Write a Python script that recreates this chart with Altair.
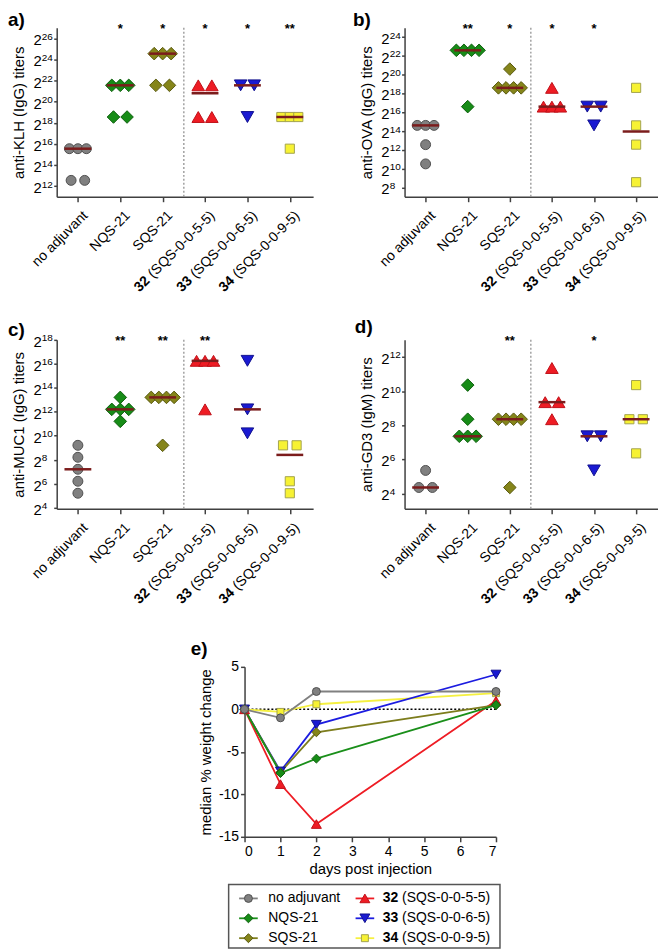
import altair as alt
import pandas as pd

FONT = "Liberation Sans"

# ---------------- categories / labels ----------------
groups = ["no adjuvant", "NQS-21", "SQS-21", "32 (SQS-0-0-5-5)", "33 (SQS-0-0-6-5)", "34 (SQS-0-0-9-5)"]
label_num = ["", "", "", "32", "33", "34"]
label_rest = ["no adjuvant", "NQS-21", "SQS-21", "(SQS-0-0-5-5)", "(SQS-0-0-6-5)", "(SQS-0-0-9-5)"]
positions = [0, 1, 2, 3, 4, 5]
divider = [2.5]

# ---------------- panel a: anti-KLH (IgG), log2 titers ----------------
klh_values = [
    [15.55, 15.55, 15.55, 12.55, 12.55],
    [21.55, 21.55, 21.55, 18.55, 18.55],
    [24.55, 24.55, 24.55, 21.55, 21.55],
    [21.55, 21.55, 18.55, 18.55],
    [21.55, 21.55, 18.55],
    [18.55, 18.55, 18.55, 15.55],
]
klh_median = [15.55, 21.55, 24.55, 20.8, 21.55, 18.55]
klh_stars = ["", "*", "*", "*", "*", "**"]
klh_ticks = [12, 14, 16, 18, 20, 22, 24, 26]

# ---------------- panel b: anti-OVA (IgG) ----------------
ova_values = [
    [14.6, 14.6, 14.6, 12.55, 10.5],
    [22.6, 22.6, 22.6, 22.6, 16.6],
    [18.6, 18.6, 18.6, 18.6, 20.6],
    [16.6, 16.6, 16.6, 18.6],
    [16.6, 16.6, 14.6],
    [18.6, 14.6, 12.55, 8.55],
]
ova_median = [14.6, 22.6, 18.6, 16.6, 16.6, 13.95]
ova_stars = ["", "**", "*", "*", "*", ""]
ova_ticks = [8, 10, 12, 14, 16, 18, 20, 22, 24]

# ---------------- panel c: anti-MUC1 (IgG) ----------------
muc_values = [
    [9.2, 8.2, 7.2, 6.2, 5.2],
    [13.2, 12.2, 12.2, 12.2, 11.2],
    [13.2, 13.2, 13.2, 13.2, 9.2],
    [16.25, 16.25, 16.25, 12.2],
    [16.25, 12.2, 10.2],
    [9.2, 9.2, 6.2, 5.2],
]
muc_median = [7.2, 12.2, 13.2, 16.25, 12.2, 8.4]
muc_stars = ["", "**", "**", "**", "", ""]
muc_ticks = [4, 6, 8, 10, 12, 14, 16, 18]

# ---------------- panel d: anti-GD3 (IgM) ----------------
gd3_values = [
    [5.35, 4.35, 4.35],
    [10.35, 8.35, 7.35, 7.35, 7.35],
    [8.35, 8.35, 8.35, 8.35, 4.35],
    [11.35, 9.35, 9.35, 8.35],
    [7.35, 7.35, 5.35],
    [10.35, 8.35, 8.35, 6.35],
]
gd3_median = [4.35, 7.35, 8.35, 9.35, 7.35, 8.35]
gd3_stars = ["", "", "**", "", "*", ""]
gd3_ticks = [4, 6, 8, 10, 12]

# ---------------- panel e: median % weight change ----------------
days = [0, 1, 2, 7]
wt_no_adj = [0, -1.0, 2.1, 2.1]
wt_nqs = [0, -7.5, -5.8, 0.5]
wt_sqs = [0, -7.4, -2.7, 0.5]
wt_32 = [0, -8.8, -13.5, 1.0]
wt_33 = [0, -7.3, -1.8, 4.1]
wt_34 = [0, -0.3, 0.6, 1.9]
zero_line = [0]
e_xticks = [0, 1, 2, 3, 4, 5, 6, 7]
e_yticks = [-15, -10, -5, 0, 5]

# ---------------- styles ----------------
fill_colors = ["#808080", "#178c17", "#85851a", "#ee1c24", "#1a1ad2", "#f7f233"]
stroke_colors = ["#505050", "#0d5e0d", "#5a5a10", "#c01018", "#10108e", "#a3a350"]
line_colors = ["#808080", "#1a8f1a", "#7d7d1d", "#ee1c24", "#1c1ce0", "#f5f040"]
marker_shapes = ["circle", "diamond", "diamond", "triangle-up", "triangle-down", "square"]
scatter_sizes = [100, 160, 160, 160, 160, 85]
line_sizes = [64, 81, 81, 100, 100, 49]
MEDIAN = "#7b1c1c"
AXIS = "#404040"

SPREAD = {1: 0.0, 2: 0.32, 3: 0.2, 4: 0.18, 5: 0.16}

HELV = {" ": 278, "(": 333, ")": 333, "-": 333, "S": 667, "Q": 778}
for _d in "0123456789":
    HELV[_d] = 556


def text_width(s, size):
    return sum(HELV[c] for c in s) * size / 1000.0


def spread(vals):
    counts = {}
    for v in vals:
        counts[v] = counts.get(v, 0) + 1
    seen = {}
    out = []
    for v in vals:
        n = counts[v]
        k = seen.get(v, 0)
        seen[v] = k + 1
        out.append((k - (n - 1) / 2.0) * SPREAD.get(n, 0.16))
    return out


def enc_group():
    return dict(
        shape=alt.Shape("group:N", scale=alt.Scale(domain=groups, range=marker_shapes), legend=None),
        fill=alt.Fill("group:N", scale=alt.Scale(domain=groups, range=fill_colors), legend=None),
        stroke=alt.Stroke("group:N", scale=alt.Scale(domain=groups, range=stroke_colors), legend=None),
        size=alt.Size("sz:Q", scale=None, legend=None),
    )


LBL_DX = 2
LBL_DY = 2
REST_OFF = text_width("(SQS-0-0-5-5)", 14) + text_width(" ", 14)


def scatter_panel(values, medians, stars, ydomain, yticks, ytitle, letter, lx, ly, width, xmax):
    height = 170
    rows = []
    for gi, vals in enumerate(values):
        for v, off in zip(vals, spread(vals)):
            rows.append({"group": groups[gi], "pos": positions[gi] + off, "y": v, "sz": scatter_sizes[gi]})
    pts = pd.DataFrame(rows)
    med = pd.DataFrame({"pos": positions, "y": medians})
    lab = pd.DataFrame({"pos": positions, "num": label_num, "rest": label_rest, "star": stars})
    tk = pd.DataFrame({"t": yticks, "base": ["2"] * len(yticks), "exp": [str(t) for t in yticks]})
    xs = alt.Scale(domain=[-0.5, xmax], nice=False, zero=False)
    ys = alt.Scale(domain=ydomain, nice=False, zero=False)
    xax = alt.Axis(values=positions, labels=False, title=None, tickSize=5, grid=False)
    yax = alt.Axis(values=yticks, labels=False, title=ytitle, tickSize=3, grid=False,
                   titleX=-45, titleY=height / 2, titleBaseline="top")

    def X(f):
        return alt.X(f"{f}:Q", scale=xs, axis=xax)

    def Y(f):
        return alt.Y(f"{f}:Q", scale=ys, axis=yax)

    divl = alt.Chart(pd.DataFrame({"pos": divider})).mark_rule(
        color="#8a8a8a", strokeDash=[2, 2], strokeWidth=1.2).encode(x=X("pos"))
    pts_l = alt.Chart(pts).mark_point(filled=True, opacity=1, strokeWidth=1).encode(
        x=X("pos"), y=Y("y"), **enc_group())
    med_l = alt.Chart(med).mark_tick(orient="horizontal", color=MEDIAN, opacity=1,
                                     thickness=2.5, size=27).encode(x=X("pos"), y=Y("y"))
    star_l = alt.Chart(lab).mark_text(font=FONT, fontSize=13, fontWeight="bold", baseline="top").encode(
        x=X("pos"), y=alt.value(-5), text="star:N")
    rest_l = alt.Chart(lab).mark_text(font=FONT, fontSize=14, angle=315, align="right", baseline="top",
                                      dx=LBL_DX, dy=LBL_DY, color="black").encode(
        x=X("pos"), y=alt.value(height + 12), text="rest:N")
    num_l = alt.Chart(lab).transform_filter("datum.num != ''").mark_text(
        font=FONT, fontSize=14, fontWeight="bold", angle=315, align="right", baseline="top",
        dx=LBL_DX - REST_OFF, dy=LBL_DY, color="black").encode(
        x=X("pos"), y=alt.value(height + 12), text="num:N")
    ybase_l = alt.Chart(tk).mark_text(font=FONT, fontSize=15, align="right", baseline="alphabetic",
                                      dy=7, color="black").encode(
        x=alt.value(-15), y=Y("t"), text="base:N")
    yexp_l = alt.Chart(tk).mark_text(font=FONT, fontSize=10, align="left", baseline="alphabetic",
                                     dy=1.5, color="black").encode(
        x=alt.value(-15), y=Y("t"), text="exp:N")
    let_l = alt.Chart(pd.DataFrame({"t": [letter]})).mark_text(
        font=FONT, fontSize=19, fontWeight="bold", align="left", baseline="top").encode(
        x=alt.value(lx), y=alt.value(ly), text="t:N")
    return alt.layer(divl, pts_l, med_l, star_l, rest_l, num_l, ybase_l, yexp_l, let_l).properties(
        width=width, height=height)


pa = scatter_panel(klh_values, klh_median, klh_stars, [11, 27], klh_ticks, "anti-KLH (IgG) titers",
                   "a)", -49, -17, 258, 5.55)
pb = scatter_panel(ova_values, ova_median, ova_stars, [7, 25], ova_ticks, "anti-OVA (IgG) titers",
                   "b)", -52, -17, 255, 5.52)
pc = scatter_panel(muc_values, muc_median, muc_stars, [3.9, 18], muc_ticks, "anti-MUC1 (IgG) titers",
                   "c)", -49, -19, 258, 5.55)
pd_ = scatter_panel(gd3_values, gd3_median, gd3_stars, [3.1, 13], gd3_ticks, "anti-GD3 (IgM) titers",
                    "d)", -50, -22, 255, 5.52)

# ---------------- panel e ----------------
wt_series = [wt_no_adj, wt_nqs, wt_sqs, wt_32, wt_33, wt_34]
erows = []
for gi in reversed(range(len(groups))):
    for d, w in zip(days, wt_series[gi]):
        erows.append({"group": groups[gi], "day": d, "w": w, "sz": line_sizes[gi]})
edf = pd.DataFrame(erows)
E_W, E_H = 253, 171
ex = alt.Scale(domain=[0, 7], nice=False, zero=False)
ey = alt.Scale(domain=[-15, 5], nice=False, zero=False)
line_scale = alt.Scale(domain=groups, range=line_colors)
e_xax = alt.Axis(values=e_xticks, title="days post injection", tickSize=5, labelPadding=3, titlePadding=3,
                 grid=False, labelExpr="'' + datum.value")
e_yax = alt.Axis(values=e_yticks, title="median % weight change", tickSize=4, labelPadding=2, grid=False,
                 labelExpr="'' + datum.value", titleX=-46, titleY=E_H / 2, titleBaseline="top")
EX = alt.X("day:Q", scale=ex, axis=e_xax)
EY = alt.Y("w:Q", scale=ey, axis=e_yax)

e_zero = alt.Chart(pd.DataFrame({"w": zero_line})).mark_rule(
    color="black", strokeDash=[2, 2], strokeWidth=1.5).encode(y=EY)
e_lines = alt.Chart(edf).mark_line(strokeWidth=1.8).encode(
    x=EX, y=EY, color=alt.Color("group:N", scale=line_scale, legend=None))
e_pts = alt.Chart(edf).mark_point(filled=True, opacity=1, strokeWidth=1).encode(x=EX, y=EY, **enc_group())
e_let = alt.Chart(pd.DataFrame({"t": ["e)"]})).mark_text(
    font=FONT, fontSize=19, fontWeight="bold", align="left", baseline="top").encode(
    x=alt.value(-54), y=alt.value(-27), text="t:N")
pe = alt.layer(e_zero, e_lines, e_pts, e_let).properties(width=E_W, height=E_H)

# ---------------- legend ----------------
leg = pd.DataFrame({"group": groups, "col": [0, 0, 0, 1, 1, 1], "row": [0, 1, 2, 0, 1, 2],
                    "num": label_num, "rest": label_rest, "sz": line_sizes})
lxs = alt.Scale(domain=[-0.17, 2.16], nice=False, zero=False)
lys = alt.Scale(domain=[-0.7, 2.5], nice=False, zero=False, reverse=True)
LX = alt.X("col:Q", scale=lxs, axis=None)
LY = alt.Y("row:Q", scale=lys, axis=None)
lbase = alt.Chart(leg)
l_seg = lbase.transform_calculate(a="datum.col - 0.08", b="datum.col + 0.08").mark_rule(strokeWidth=1.8).encode(
    x=alt.X("a:Q", scale=lxs, axis=None), x2="b:Q", y=LY,
    color=alt.Color("group:N", scale=line_scale, legend=None))
l_sym = lbase.mark_point(filled=True, opacity=1, strokeWidth=1).encode(x=LX, y=LY, **enc_group())
l_t0 = lbase.transform_filter("datum.num == ''").mark_text(
    font=FONT, fontSize=14, align="left", baseline="middle", dx=20).encode(x=LX, y=LY, text="rest:N")
l_t1 = lbase.transform_filter("datum.num != ''").mark_text(
    font=FONT, fontSize=14, fontWeight="bold", align="left", baseline="middle", dx=18).encode(
    x=LX, y=LY, text="num:N")
l_t2 = lbase.transform_filter("datum.num != ''").mark_text(
    font=FONT, fontSize=14, align="left", baseline="middle",
    dx=18 + text_width("32", 14) + text_width(" ", 14)).encode(x=LX, y=LY, text="rest:N")
legend = alt.layer(l_seg, l_sym, l_t0, l_t1, l_t2).properties(
    width=273, height=64, view=alt.ViewBackground(stroke="#555555", strokeWidth=1.5))


def spacer(w):
    return alt.Chart(pd.DataFrame({"z": [0]})).mark_rule(opacity=0).encode(
        x=alt.value(0), x2=alt.value(w), y=alt.value(0)).properties(width=w, height=1)


row1 = alt.hconcat(pa, pb, spacing=40)
row2 = alt.hconcat(pc, pd_, spacing=42)
row3 = alt.hconcat(spacer(135), pe, spacing=0)
row4 = alt.hconcat(spacer(172), legend, spacing=0)

top = alt.vconcat(row1, row2, spacing=23)
mid = alt.vconcat(top, row3, spacing=33)
chart = alt.vconcat(mid, row4, spacing=7).properties(padding=0).configure_view(stroke=None).configure_axis(
    domainColor=AXIS, domainWidth=1.5, tickColor=AXIS, tickWidth=1.5,
    labelFont=FONT, titleFont=FONT, labelColor="black", titleColor="black",
    labelFontSize=14, titleFontSize=15, titleFontWeight="normal", grid=False)

chart.save("out.html", embed_options={"renderer": "svg", "actions": False})
